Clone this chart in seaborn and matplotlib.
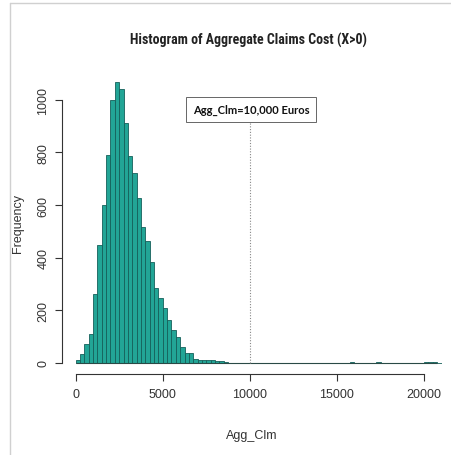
import numpy as np
import pandas as pd
import matplotlib
matplotlib.use("Agg")
import matplotlib.pyplot as plt
from matplotlib.lines import Line2D
import seaborn as sns

# ---- data ----
bin_width = 250
x_max = 21000
# counts for consecutive bins starting at 0
main_counts = [13, 35, 73, 110, 263, 448, 600, 789, 1000, 1068, 1041, 912,
               785, 720, 625, 518, 465, 384, 285, 245, 207, 165, 125, 100,
               60, 39, 39, 16, 12, 12, 11, 10, 8, 6, 3, 1]
# sparse outliers far in the tail: bin start -> count
outlier_starts = [15750, 17250, 20000, 20250, 20500]
outlier_counts = [3, 3, 2, 3, 2]

x_ticks = [0, 5000, 10000, 15000, 20000]
y_ticks = [0, 200, 400, 600, 800, 1000]
ref_value = 10000
title = "Histogram of Aggregate Claims Cost (X>0)"
ref_label = "Agg_Clm=10,000 Euros"

# ---- build histogram table ----
edges = np.arange(0, x_max + bin_width, bin_width)
counts = np.zeros(len(edges) - 1)
counts[:len(main_counts)] = main_counts
for s, c in zip(outlier_starts, outlier_counts):
    counts[int(s // bin_width)] = c
df = pd.DataFrame({"Agg_Clm": edges[:-1] + bin_width / 2, "n": counts})

# ---- style ----
sns.set_style("ticks")
plt.rcParams["font.family"] = ["Liberation Sans", "DejaVu Sans"]

W, H = 451, 456
fig = plt.figure(figsize=(W / 100, H / 100), dpi=100)
ax = fig.add_axes([61.7 / W, (H - 375.3) / H, (441.5 - 61.7) / W, (375.3 - 71.5) / H])

sns.histplot(data=df, x="Agg_Clm", weights="n", binwidth=bin_width,
             binrange=(0, x_max), ax=ax,
             color="#22a596", edgecolor="#15605a", linewidth=0.6, alpha=1)
last_edge = edges[np.nonzero(counts)[0].max() + 1]
ax.hlines(0, 0, last_edge, color="#2a4a46", lw=0.8, zorder=3)

ax.set_xlim(-800, 21000)
ax.set_ylim(-43, 1111)

# reference line and label
ax.vlines(ref_value, 0, 915, colors="#888888", linestyles=(0, (1, 1.5)), lw=0.8, zorder=4)
ax.text(ref_value + 60, 963, ref_label, ha="center", va="center", fontsize=8,
        fontweight="bold", family=["Lato", "Liberation Sans"], color="#111111", zorder=5,
        bbox=dict(boxstyle="square,pad=0.6", fc="white", ec="#666666", lw=0.7))

# axes styling (R base look)
for s in ["top", "right"]:
    ax.spines[s].set_visible(False)
ax.spines["left"].set_bounds(0, 1000)
ax.spines["bottom"].set_bounds(0, 20000)
for s in ["left", "bottom"]:
    ax.spines[s].set_color("#333333")
    ax.spines[s].set_linewidth(0.8)
ax.set_xticks(x_ticks)
ax.set_yticks(y_ticks)
ax.set_xticklabels([str(v) for v in x_ticks])
ax.set_yticklabels([str(v) for v in y_ticks], rotation=90, va="center")
ax.tick_params(axis="both", length=5, width=0.8, color="#333333",
               labelsize=9, labelcolor="#333333")
ax.tick_params(axis="x", pad=5)
ax.tick_params(axis="y", pad=4)

ax.set_xlabel("Agg_Clm", fontsize=9, color="#333333", labelpad=21)
ax.set_ylabel("Frequency", fontsize=9, color="#333333")
ax.yaxis.set_label_coords((24 - 61.7) / (441.5 - 61.7), 0.5)

fig.text(248 / W, 1 - 40 / H, title, ha="center", va="center", fontsize=10,
         fontweight="bold", color="#222222",
         family=["Liberation Sans Narrow", "Roboto Condensed", "DejaVu Sans Condensed",
                 "Liberation Sans"])

# screenshot frame lines
fig.add_artist(Line2D([9.5 / W, 1], [1 - 4 / H, 1 - 4 / H], color="#d0d0d0", lw=1))
fig.add_artist(Line2D([9.5 / W, 9.5 / W], [0, 1 - 4 / H], color="#d0d0d0", lw=1))

fig.savefig("out.png", dpi=100)
